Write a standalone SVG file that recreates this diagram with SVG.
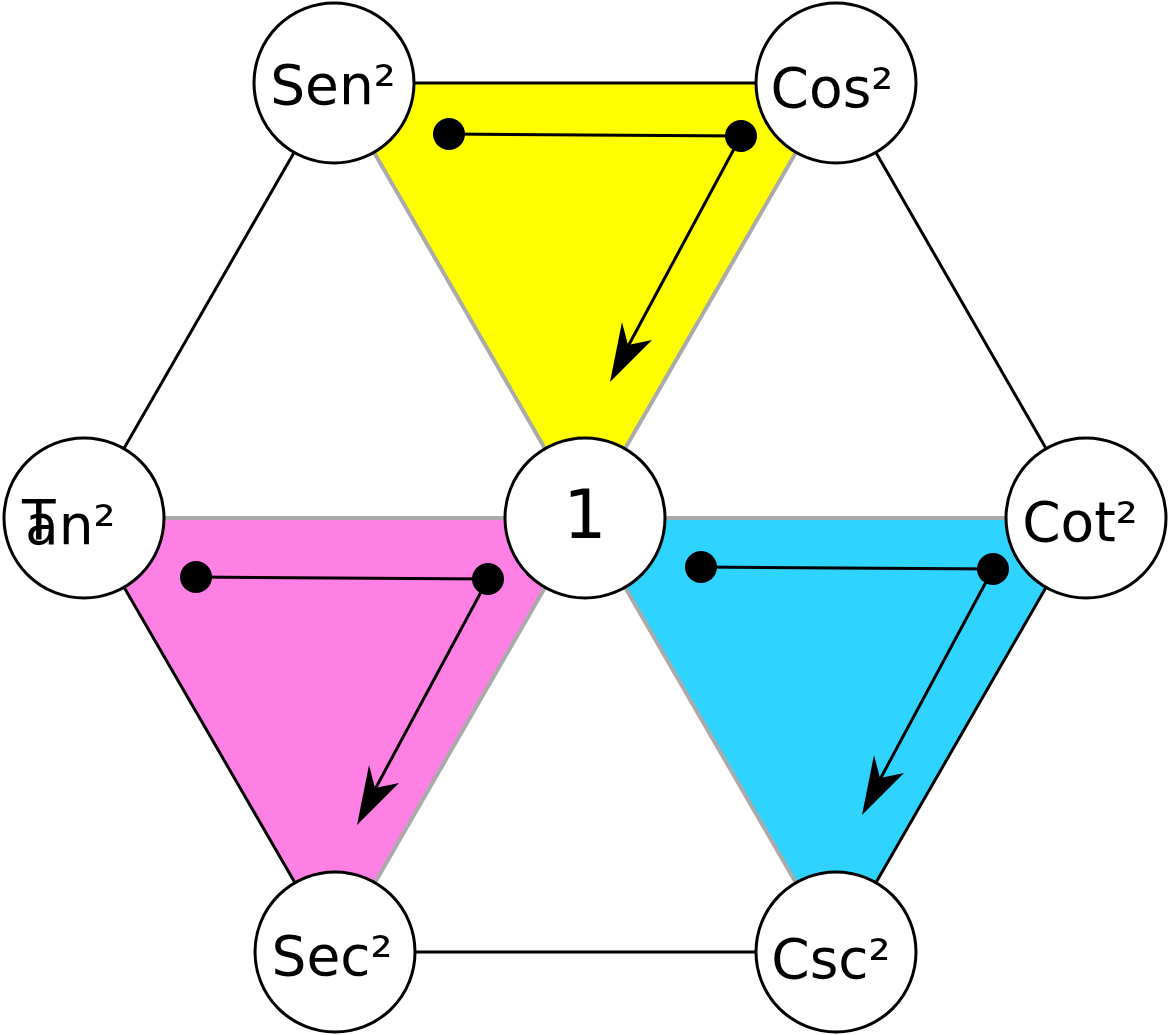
<svg xmlns="http://www.w3.org/2000/svg" width="1169" height="1035" viewBox="0 0 1169 1035">
<style>
.n{fill:#fff;stroke:#000;stroke-width:3}
.t{font-family:"DejaVu Sans",sans-serif;font-size:55px;fill:#000}
.e{stroke:#000;stroke-width:3;fill:none}
.g{stroke:#aaa;stroke-width:4;fill:none}
.d{fill:#000}
</style>
<rect width="1169" height="1035" fill="#fff"/>
<g id="tri">
<polygon points="334,83 836,83 585,518" fill="#ffff00"/>
<polygon points="84,518 585,518 335,952" fill="#ff80e5"/>
<polygon points="585,518 1086,518 836,952" fill="#2ed3ff"/>
</g>
<g id="connectors">
<path class="g" d="M334,83 L585,518 L836,83 M84,518 L1086,518 M585,518 L335,952 M585,518 L836,952"/>
<path class="e" d="M334,83 L836,83 L1086,518 L836,952 L335,952 L84,518 Z"/>
<path class="e" d="M449,134 L741,136 L618,365 M196,577 L488,579 L365,808 M701,567 L993,569 L870,798"/>
<circle class="d" cx="449" cy="134" r="16"/><circle class="d" cx="741" cy="136" r="16"/>
<circle class="d" cx="196" cy="577" r="16"/><circle class="d" cx="488" cy="579" r="16"/>
<circle class="d" cx="701" cy="567" r="16"/><circle class="d" cx="993" cy="569" r="16"/>
<path d="M610,382 L622,322 L628,345 L652,340 Z" fill="#000"/>
<path d="M357,825 L369,765 L375,788 L399,783 Z" fill="#000"/>
<path d="M862,815 L874,755 L880,778 L904,773 Z" fill="#000"/>
</g>
<g id="sen"><circle class="n" cx="334" cy="83" r="80"/><text class="t" x="333" y="104" text-anchor="middle">Sen²</text></g>
<g id="cos"><circle class="n" cx="836" cy="83" r="80"/><text class="t" x="832" y="107" text-anchor="middle">Cos²</text></g>
<g id="tan"><circle class="n" cx="84" cy="518" r="80"/><text class="t" x="22" y="539">T</text><text class="t" x="25" y="544">an²</text></g>
<g id="one"><circle class="n" cx="585" cy="518" r="80"/><text class="t" x="585" y="538" text-anchor="middle" style="font-size:68px">1</text></g>
<g id="cot"><circle class="n" cx="1086" cy="518" r="80"/><text class="t" x="1080" y="541" text-anchor="middle">Cot²</text></g>
<g id="sec"><circle class="n" cx="335" cy="952" r="80"/><text class="t" x="332" y="975" text-anchor="middle">Sec²</text></g>
<g id="csc"><circle class="n" cx="836" cy="952" r="80"/><text class="t" x="831" y="978" text-anchor="middle">Csc²</text></g>
</svg>
